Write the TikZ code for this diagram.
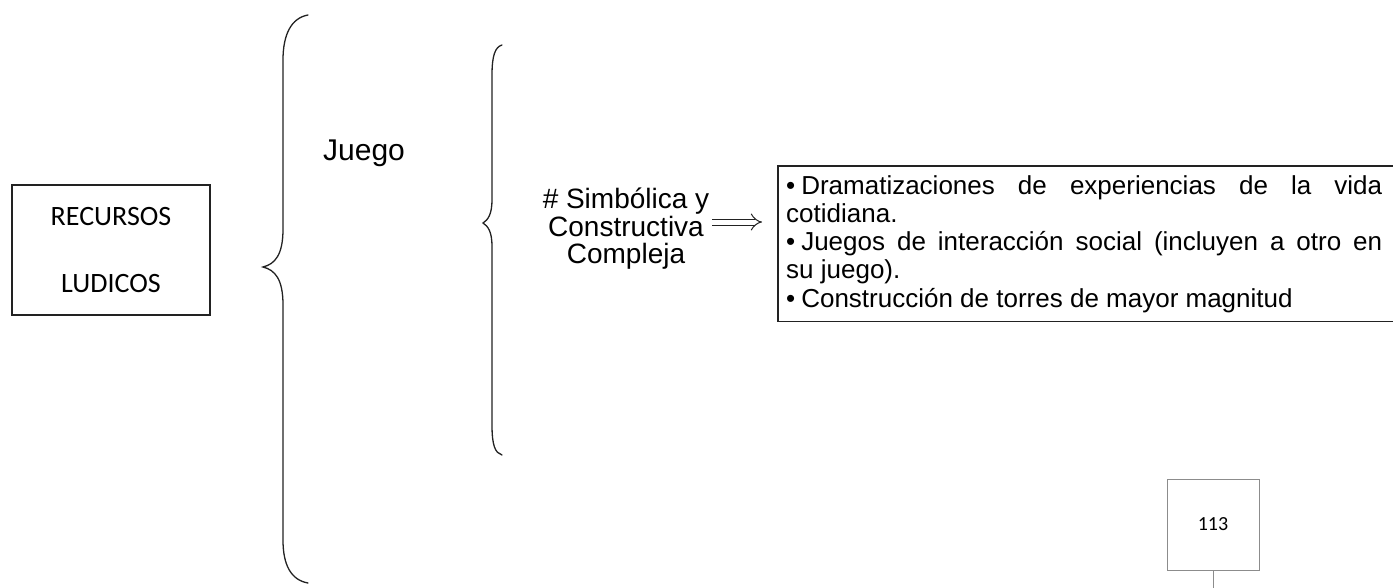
\documentclass[tikz,border=0pt]{standalone}
\usepackage{fontspec}
\usepackage{tikz}
\setmainfont{Liberation Sans}
\newfontfamily\calibri{Carlito}
\usetikzlibrary{arrows.meta}
\usetikzlibrary{positioning}
\definecolor{ink}{HTML}{222222}
\definecolor{pagegray}{HTML}{8C8C8C}
\newcommand{\vineta}{•\hspace{6pt}}
\tikzset{brace/.style = {draw=ink, line width=1.3pt, line cap=round},
         frame/.style = {draw=ink, line width=1.2pt},
         implies/.style = {draw=ink, double, double distance=5pt, line width=1pt,
                           -{Implies[length=12pt, width=21pt]}}}

\begin{document}
\begin{tikzpicture}[x=1pt, y=-1pt]
  \useasboundingbox (0,0) rectangle (1393,587);

  \node[frame, minimum width=198pt, minimum height=130pt, align=center,
        font=\calibri\fontsize{28}{34}\selectfont] (recursos) at (111,250)
        {RECURSOS\\[33pt]LUDICOS};

  % big brace
  \draw[brace] (308,15) .. controls (291,18) and (283,35) .. (283,60) -- (283,229)
     .. controls (283,255) and (275,264) .. (263,267)
     .. controls (275,270) and (283,279) .. (283,305) -- (283,540)
     .. controls (283,565) and (291,580) .. (308,583);

  \node[anchor=base west, inner sep=0, font=\fontsize{30}{34}\selectfont] (juego) at (323,160) {Juego};

  % small brace
  \draw[brace] (502,45) .. controls (495,47) and (492,56) .. (492,75) -- (492,200)
     .. controls (492,214) and (488,220) .. (483,223)
     .. controls (488,226) and (492,232) .. (492,246) -- (492,425)
     .. controls (492,445) and (495,453) .. (502,455);

  \node[anchor=north, inner sep=0, align=center, font=\fontsize{28}{27.5}\selectfont]
        (simbolica) at (626,188) {\# Simbólica y\\Constructiva\\Compleja};

  \node[anchor=north west, inner xsep=8pt, inner ysep=9pt, text width=596pt,
        align=justify, font=\fontsize{26}{28.3}\selectfont] (juegos) at (778,166)
        {\hyphenpenalty=10000 \vineta Dramatizaciones de experiencias de la vida\linebreak
         cotidiana.\par
         \vineta Juegos de interacción social (incluyen a otro en\linebreak
         su juego).\par
         \vineta Construcción de torres de mayor magnitud};
  \draw[frame] ([xshift=30pt]juegos.north east) -| (juegos.south west)
     -- ([xshift=30pt]juegos.south east);

  \coordinate (flecha) at (0,222);
  \draw[implies] ([xshift=3pt]simbolica.east |- flecha) -- ([xshift=-16pt]juegos.west |- flecha);

  \node[draw=pagegray, line width=1pt, minimum width=92pt, minimum height=91pt,
        font=\calibri\fontsize{20}{24}\selectfont] (pagina) at (1213,524.5) {113};
  \coordinate (borde) at (1213,595);
  \draw[draw=pagegray, line width=1pt] (pagina) -- (borde);
\end{tikzpicture}
\end{document}
